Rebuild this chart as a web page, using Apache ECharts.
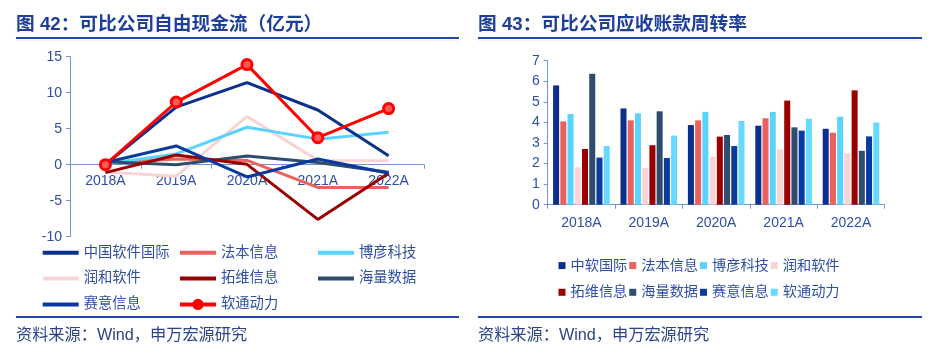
<!DOCTYPE html>
<html>
<head>
<meta charset="utf-8">
<script src="https://cdn.jsdelivr.net/npm/echarts@6/dist/echarts.min.js"></script>
<style>
html,body{margin:0;padding:0;background:#fff;}
#c1{position:absolute;left:0;top:0;width:470px;height:356px;}
#c2{position:absolute;left:470px;top:0;width:470px;height:356px;}
</style>
</head>
<body>
<div id="c1"></div>
<div id="c2"></div>
<script>
// ---- data ----
const years = ['2018A', '2019A', '2020A', '2021A', '2022A'];

// 图42 自由现金流（亿元）
const fcfNames = ['中国软件国际', '法本信息', '博彦科技', '润和软件', '拓维信息', '海量数据', '赛意信息', '软通动力'];
const fcfZhongruan = [0, 8.0, 11.4, 7.6, 1.25];
const fcfFaben = [0.2, 0.8, 0.6, -3.15, -3.15];
const fcfBoyan = [0.1, 1.5, 5.2, 3.55, 4.5];
const fcfRunhe = [-1.0, -1.6, 6.7, 0.6, 0.55];
const fcfTuowei = [-1.1, 1.35, 0.05, -7.6, -1.2];
const fcfHailiang = [0.4, 0.0, 1.2, 0.3, -1.05];
const fcfSaiyi = [0.3, 2.6, -1.7, 0.8, -1.2];
const fcfRuantong = [0, 8.7, 13.9, 3.75, 7.8];

// 图43 应收账款周转率
const arNames = ['中软国际', '法本信息', '博彦科技', '润和软件', '拓维信息', '海量数据', '赛意信息', '软通动力'];
const arZhongruan = [5.80, 4.68, 3.87, 3.84, 3.69];
const arFaben = [4.05, 4.10, 4.10, 4.20, 3.50];
const arBoyan = [4.41, 4.44, 4.51, 4.51, 4.28];
const arRunhe = [1.82, 1.78, 2.33, 2.69, 2.50];
const arTuowei = [2.71, 2.89, 3.31, 5.06, 5.56];
const arHailiang = [6.37, 4.54, 3.39, 3.76, 2.62];
const arSaiyi = [2.29, 2.27, 2.85, 3.60, 3.32];
const arRuantong = [2.85, 3.36, 4.07, 4.18, 3.99];

const fcfTicks = [-10, 15, 5];
const arTicks = [0, 7, 1];

// ---- styles ----
const FONT = "'Liberation Sans', 'Noto Sans CJK SC', sans-serif";
const TITLE_C = '#1d3f99';
const TEXT_C = '#2f4fa6';
const AXIS_C = '#7393d2';
const RULE_C = '#1f48a8';
const colors = ['#0b2f8c', '#e8625e', '#5bd3ff', '#fad4d4', '#990000', '#2e4d6e', '#0a3a9e', '#ff0000'];
const barColors = ['#0b2f8c', '#e8625e', '#5bd3ff', '#fad4d4', '#990000', '#2e4d6e', '#0a3a9e', '#66d9ff'];

function frame(title, x0, x1) {
  return {
    title: {
      text: title, left: x0, top: 15.5, padding: 0,
      textStyle: {fontFamily: FONT, fontSize: 18.7, fontWeight: 'bold', color: TITLE_C}
    },
    graphic: [
      {type: 'rect', shape: {x: x0, y: 37, width: x1 - x0, height: 2}, style: {fill: RULE_C}, silent: true},
      {type: 'rect', shape: {x: x0, y: 40.5, width: x1 - x0, height: 1}, style: {fill: '#f0f0f0'}, silent: true},
      {type: 'rect', shape: {x: x0, y: 316, width: x1 - x0, height: 2}, style: {fill: RULE_C}, silent: true},
      {type: 'text', left: x0, top: 327, style: {text: '资料来源：Wind，申万宏源研究', fontFamily: FONT, fontSize: 16.2, fill: '#2d4488'}, silent: true}
    ]
  };
}

// ---- chart 1 ----
const c1 = echarts.init(document.getElementById('c1'), null, {renderer: 'canvas'});
const fcfData = [fcfZhongruan, fcfFaben, fcfBoyan, fcfRunhe, fcfTuowei, fcfHailiang, fcfSaiyi, fcfRuantong];
const zOrder = [8, 3, 4, 2, 5, 4, 6, 10];
const f1 = frame('图 42：可比公司自由现金流（亿元）', 16, 459);
const legendBase = {
  orient: 'vertical', itemWidth: 36, itemHeight: 14, itemGap: 11.6, top: 245.5, padding: 0,
  lineStyle: {width: 4},
  textStyle: {fontFamily: FONT, fontSize: 14.3, color: TEXT_C}, selectedMode: false
};
const legItem = (i) => (i === 7
  ? {name: fcfNames[i], itemStyle: {color: '#ff0000', borderWidth: 0}}
  : {name: fcfNames[i], itemStyle: {opacity: 0, borderWidth: 0}});
c1.setOption(Object.assign(f1, {
  animation: false,
  grid: {left: 70, top: 56.7, width: 354, height: 180},
  xAxis: {
    type: 'category', data: years, boundaryGap: true, position: 'bottom', offset: -72,
    axisLine: {onZero: false, lineStyle: {color: AXIS_C, width: 1}},
    axisTick: {show: true, length: 4, lineStyle: {color: AXIS_C}},
    axisLabel: {fontFamily: FONT, fontSize: 14, color: TEXT_C, margin: 9}
  },
  yAxis: {
    type: 'value', min: fcfTicks[0], max: fcfTicks[1], interval: fcfTicks[2],
    axisLine: {show: true, lineStyle: {color: AXIS_C, width: 1}},
    axisTick: {show: true, length: 4, lineStyle: {color: AXIS_C}},
    splitLine: {show: false},
    axisLabel: {fontFamily: FONT, fontSize: 14, color: TEXT_C, margin: 8}
  },
  legend: [
    Object.assign({}, legendBase, {left: 40.7, data: [0, 3, 6].map(legItem)}),
    Object.assign({}, legendBase, {left: 178, data: [1, 4, 7].map(legItem)}),
    Object.assign({}, legendBase, {left: 316, data: [2, 5].map(legItem)})
  ],
  series: fcfNames.map((n, i) => ({
    name: n, type: 'line', data: fcfData[i], z: zOrder[i],
    symbol: i === 7 ? 'circle' : 'none', symbolSize: 10, showSymbol: i === 7,
    lineStyle: {color: colors[i], width: 3},
    itemStyle: i === 7 ? {color: '#ff5a5a', borderColor: '#ff0000', borderWidth: 3} : {color: colors[i]},
    emphasis: {disabled: true}
  }))
}));

// ---- chart 2 ----
const c2 = echarts.init(document.getElementById('c2'), null, {renderer: 'canvas'});
const arData = [arZhongruan, arFaben, arBoyan, arRunhe, arTuowei, arHailiang, arSaiyi, arRuantong];
const f2 = frame('图 43：可比公司应收账款周转率', 8, 452);
const legend2 = {
  orient: 'horizontal', icon: 'rect', itemWidth: 7, itemHeight: 7, itemGap: 2, left: 88.5, padding: 0,
  textStyle: {fontFamily: FONT, fontSize: 14.2, color: TEXT_C}, selectedMode: false
};
c2.setOption(Object.assign(f2, {
  animation: false,
  grid: {left: 77.7, top: 60.7, width: 337, height: 144},
  xAxis: {
    type: 'category', data: years, boundaryGap: true,
    axisLine: {lineStyle: {color: AXIS_C, width: 1}},
    axisTick: {show: true, length: 4, lineStyle: {color: AXIS_C}},
    axisLabel: {fontFamily: FONT, fontSize: 14, color: TEXT_C, margin: 11}
  },
  yAxis: {
    type: 'value', min: arTicks[0], max: arTicks[1], interval: arTicks[2],
    axisLine: {show: true, lineStyle: {color: AXIS_C, width: 1}},
    axisTick: {show: true, length: 4, lineStyle: {color: AXIS_C}},
    splitLine: {show: false},
    axisLabel: {fontFamily: FONT, fontSize: 14, color: TEXT_C, margin: 8}
  },
  legend: [
    Object.assign({}, legend2, {top: 258.5, data: arNames.slice(0, 4)}),
    Object.assign({}, legend2, {top: 285.2, data: arNames.slice(4)})
  ],
  series: arNames.map((n, i) => ({
    name: n, type: 'bar', data: arData[i],
    barGap: '20%', barCategoryGap: '16%',
    itemStyle: {color: barColors[i]},
    emphasis: {disabled: true}
  }))
}));
</script>
</body>
</html>
